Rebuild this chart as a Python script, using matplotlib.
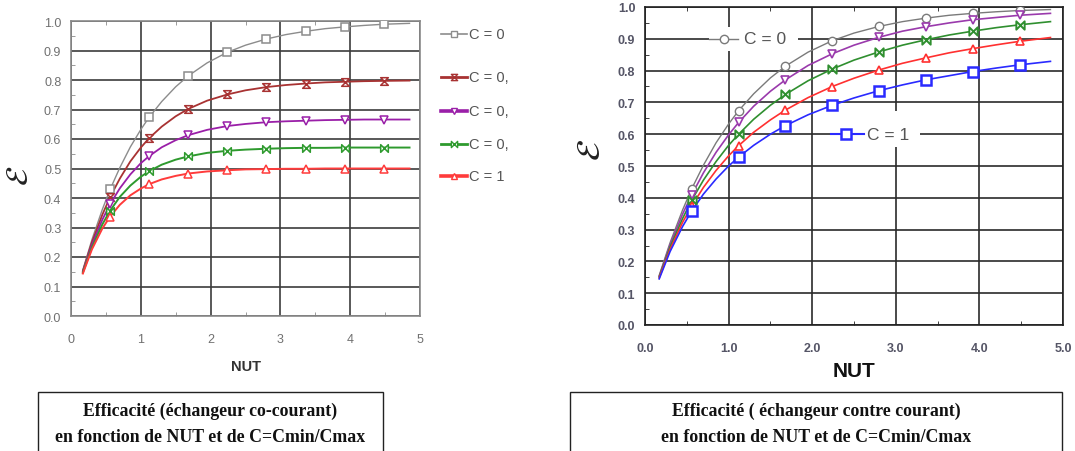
import numpy as np
import matplotlib
matplotlib.use('Agg')
import matplotlib.pyplot as plt
from matplotlib.path import Path
from matplotlib.patches import Rectangle

plt.rcParams['font.family'] = ['Liberation Sans', 'DejaVu Sans']
plt.rcParams['mathtext.fontset'] = 'stix'

nut = [0.17, 0.3, 0.45, 0.56, 0.7, 0.85, 1.0, 1.12, 1.3, 1.5, 1.68, 1.95,
       2.24, 2.5, 2.8, 3.08, 3.36, 3.64, 3.92, 4.2, 4.48, 4.85]
mark_idx = [3, 7, 10, 12, 14, 16, 18, 20]  # points carrying a marker

# co-courant (left)
co_c0 = [0.156, 0.259, 0.362, 0.429, 0.503, 0.573, 0.632, 0.674, 0.727, 0.777, 0.814, 0.858,
         0.894, 0.918, 0.939, 0.954, 0.965, 0.974, 0.980, 0.985, 0.989, 0.992]
co_c25 = [0.153, 0.250, 0.344, 0.403, 0.466, 0.524, 0.571, 0.603, 0.642, 0.677, 0.702, 0.730,
          0.751, 0.765, 0.776, 0.783, 0.788, 0.792, 0.794, 0.796, 0.797, 0.798]
co_c50 = [0.150, 0.242, 0.327, 0.379, 0.433, 0.480, 0.518, 0.542, 0.572, 0.596, 0.613, 0.631,
          0.644, 0.651, 0.657, 0.660, 0.662, 0.664, 0.665, 0.666, 0.666, 0.666]
co_c75 = [0.147, 0.233, 0.311, 0.357, 0.404, 0.442, 0.472, 0.491, 0.513, 0.530, 0.541, 0.553,
          0.560, 0.564, 0.567, 0.569, 0.570, 0.570, 0.571, 0.571, 0.571, 0.571]
co_c1 = [0.144, 0.226, 0.297, 0.337, 0.377, 0.409, 0.432, 0.447, 0.463, 0.475, 0.483, 0.490,
         0.494, 0.497, 0.498, 0.499, 0.499, 0.500, 0.500, 0.500, 0.500, 0.500]
co_labels = ['C = 0', 'C = 0,', 'C = 0,', 'C = 0,', 'C = 1']

# contre-courant (right)
cc_c0 = co_c0
cc_c25 = [0.153, 0.252, 0.349, 0.410, 0.479, 0.543, 0.598, 0.637, 0.688, 0.735, 0.771, 0.816,
          0.853, 0.880, 0.905, 0.924, 0.938, 0.950, 0.960, 0.967, 0.974, 0.980]
cc_c50 = [0.151, 0.245, 0.335, 0.393, 0.456, 0.514, 0.565, 0.600, 0.647, 0.691, 0.725, 0.768,
          0.805, 0.833, 0.859, 0.880, 0.897, 0.912, 0.924, 0.935, 0.944, 0.954]
cc_c75 = [0.148, 0.238, 0.323, 0.375, 0.433, 0.486, 0.532, 0.564, 0.606, 0.645, 0.676, 0.715,
          0.750, 0.776, 0.802, 0.823, 0.840, 0.856, 0.869, 0.881, 0.892, 0.904]
cc_c1 = [0.145, 0.231, 0.310, 0.359, 0.412, 0.459, 0.500, 0.528, 0.565, 0.600, 0.627, 0.661,
         0.691, 0.714, 0.737, 0.755, 0.771, 0.784, 0.797, 0.808, 0.818, 0.829]

cap_left = 'Efficacité (échangeur co-courant)\nen fonction de NUT et de C=Cmin/Cmax'
cap_right = 'Efficacité ( échangeur contre courant)\nen fonction de NUT et de C=Cmin/Cmax'

# markers: hourglass and bowtie
hourglass = Path([(-1, 1), (1, 1), (-1, -1), (1, -1), (-1, 1)],
                 [Path.MOVETO, Path.LINETO, Path.LINETO, Path.LINETO, Path.CLOSEPOLY])
bowtie = Path([(-1, 1), (-1, -1), (1, 1), (1, -1), (-1, 1)],
              [Path.MOVETO, Path.LINETO, Path.LINETO, Path.LINETO, Path.CLOSEPOLY])

fig = plt.figure(figsize=(10.75, 4.52), dpi=100)
ax1 = fig.add_axes([71/1075, 1-317/452, 349/1075, 295/452])
ax2 = fig.add_axes([645/1075, 1-326/452, 418/1075, 318/452])


def setup(ax, grid_c, frame_c, fmt, tick_c, bold):
    ax.set_xlim(0, 5)
    ax.set_ylim(0, 1)
    ax.set_xticks(np.arange(0, 5.01, 1))
    ax.set_yticks(np.arange(0, 1.01, 0.1))
    ax.set_xticks(np.arange(0.5, 5, 1), minor=True)
    ax.set_yticks(np.arange(0.05, 1, 0.1), minor=True)
    ax.set_xticklabels([fmt % v for v in np.arange(0, 5.01, 1)])
    ax.set_yticklabels(['%.1f' % v for v in np.arange(0, 1.01, 0.1)])
    ax.grid(True, which='major', color=grid_c, lw=1.2)
    ax.tick_params(which='major', length=0, labelsize=9, labelcolor=tick_c, pad=7)
    ax.tick_params(which='minor', direction='in', length=3, top=True, color=frame_c)
    for lab in ax.get_xticklabels() + ax.get_yticklabels():
        if bold:
            lab.set_fontweight('bold')
    for s in ax.spines.values():
        s.set_color(frame_c)
        s.set_linewidth(1.2)


setup(ax1, '#3c3c3c', '#8a8a8a', '%d', '#707070', False)
setup(ax2, '#2a2a2a', '#202020', '%.1f', '#555566', True)
ax1.tick_params(axis='x', pad=12)
ax2.tick_params(axis='x', pad=12)

nut_m = [nut[i] for i in mark_idx]

# left panel
left_series = [
    (co_c0, '#8c8c8c', 's', 1.0, 1.2),
    (co_c25, '#a83232', hourglass, 1.3, 2.0),
    (co_c50, '#9a1fa8', 'v', 1.3, 2.6),
    (co_c75, '#2e9a2e', bowtie, 1.4, 2.0),
    (co_c1, '#ff3b3b', '^', 1.4, 2.6),
]
leg_y = [0.956, 0.810, 0.695, 0.583, 0.475]
for (vals, col, mk, lw, leg_lw), lab, ly in zip(left_series, co_labels, leg_y):
    ax1.plot(nut, vals, color=col, lw=lw, zorder=3)
    ax1.plot(nut_m, [vals[i] for i in mark_idx], ls='none', marker=mk, ms=5.5,
             mfc='white', mec=col, mew=1.1, zorder=4)
    ax1.plot([1.060, 1.135], [ly, ly], color=col, lw=leg_lw, transform=ax1.transAxes,
             clip_on=False)
    ax1.plot([1.097], [ly], marker=mk, ms=4.5, mfc='white', mec=col, mew=1.0,
             transform=ax1.transAxes, clip_on=False)
    ax1.text(1.140, ly, lab, transform=ax1.transAxes, va='center', ha='left',
             fontsize=10.5, color='#555555')

ax1.set_xlabel('NUT', fontsize=10.5, fontweight='bold', color='#333333', labelpad=10)

# right panel
right_series = [
    (cc_c0, '#7a7a7a', 'o', 1.0, 6.0, 1.0),
    (cc_c25, '#9a3aac', 'v', 1.2, 6.0, 1.2),
    (cc_c50, '#2f8f2f', bowtie, 1.2, 6.0, 1.4),
    (cc_c75, '#ff3030', '^', 1.2, 6.0, 1.2),
    (cc_c1, '#2a2aff', 's', 1.2, 6.5, 1.8),
]
for vals, col, mk, lw, ms, mew in right_series:
    ax2.plot(nut, vals, color=col, lw=lw, zorder=3)
    ax2.plot(nut_m, [vals[i] for i in mark_idx], ls='none', marker=mk, ms=ms,
             mfc='white', mec=col, mew=mew, zorder=4)

# in-plot legend labels
ax2.add_patch(Rectangle((0.77, 0.862), 1.06, 0.075, facecolor='white', edgecolor='none', zorder=2.5))
ax2.plot([0.77, 1.11], [0.9, 0.9], color='#7a7a7a', lw=1.0, zorder=5)
ax2.plot([0.945], [0.9], marker='o', ms=6, mfc='white', mec='#7a7a7a', mew=1.0, zorder=6)
ax2.text(1.18, 0.9, 'C = 0', fontsize=12.5, va='center', ha='left', color='#555555', zorder=6)

ax2.add_patch(Rectangle((2.21, 0.56), 1.08, 0.113, facecolor='white', edgecolor='none', zorder=2.5))
ax2.plot([2.22, 2.62], [0.6, 0.6], color='#2a2aff', lw=1.5, zorder=5)
ax2.plot([2.40], [0.6], marker='s', ms=6.5, mfc='white', mec='#2a2aff', mew=1.8, zorder=6)
ax2.text(2.66, 0.6, 'C = 1', fontsize=12.5, va='center', ha='left', color='#555555', zorder=6)

ax2.set_xlabel('NUT', fontsize=15, fontweight='bold', color='#111111', labelpad=5)

# epsilon axis labels
fig.text(20/1075, 1-176/452, r'$\mathcal{E}$', rotation=90, ha='center', va='center',
         fontsize=22, color='#222222')
fig.text(592/1075, 1-150/452, r'$\mathcal{E}$', rotation=90, ha='center', va='center',
         fontsize=24, color='#222222')

# caption boxes
for x0, x1, txt in [(38, 383, cap_left), (570, 1062, cap_right)]:
    fig.patches.append(Rectangle((x0/1075, -0.05), (x1-x0)/1075, 0.05 + 1-393/452,
                                 transform=fig.transFigure, facecolor='white',
                                 edgecolor='#222222', lw=1.0))
    fig.text((x0+x1)/2/1075, 1-424.5/452, txt, ha='center', va='center',
             family='Liberation Serif', fontweight='bold', fontsize=12.8,
             linespacing=1.7, color='#111111')

fig.savefig('out.png', dpi=100)
